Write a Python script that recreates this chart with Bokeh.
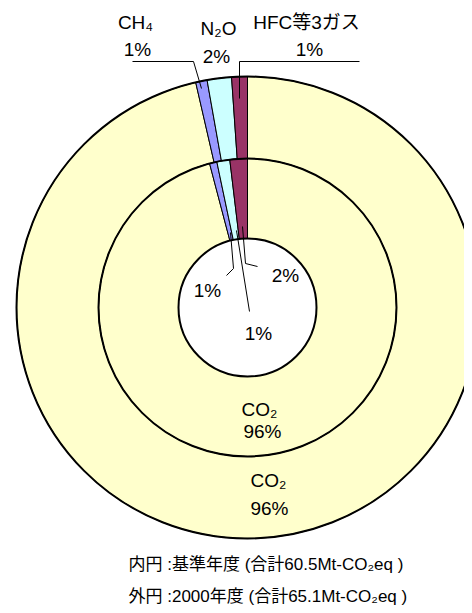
import numpy as np
from bokeh.plotting import figure
from bokeh.models import Range1d, ColumnDataSource
from bokeh.core.properties import value
from bokeh.embed import file_html
from bokeh.resources import INLINE

# ---- data ----
gases = ["CO₂", "CH₄", "N₂O", "HFC等3ガス"]
share_2000 = [96.4, 0.8, 1.7, 1.1]      # outer ring (2000年度)
share_base = [95.9, 0.8, 1.4, 1.9]      # inner ring (基準年度)
pct_2000 = ["96%", "1%", "2%", "1%"]
pct_base = ["96%", "1%", "1%", "2%"]
colors = ["#FFFFCC", "#9999FF", "#CCFFFF", "#993366"]
caption = ["内円 :基準年度 (合計60.5Mt-CO₂eq )",
           "外円 :2000年度 (合計65.1Mt-CO₂eq )"]

FONT = value("'Liberation Sans', 'Noto Sans CJK JP'")

W, H = 464, 608
p = figure(width=W, height=H, output_backend="svg", toolbar_location=None,
           x_range=Range1d(0, W), y_range=Range1d(-H, 0),
           min_border=0)
p.axis.visible = False
p.grid.visible = False
p.outline_line_color = None
p.background_fill_color = "white"

CX, CY = 247, -307
R_HOLE, R_MID, R_OUT = 69, 149, 231


def wedges(shares):
    s = np.array(shares, dtype=float)
    cum = np.concatenate([[0], np.cumsum(s)]) / s.sum()
    start = np.pi / 2 - 2 * np.pi * cum[:-1]
    end = np.pi / 2 - 2 * np.pi * cum[1:]
    return start, end


for shares, r0, r1 in [(share_base, R_HOLE, R_MID), (share_2000, R_MID, R_OUT)]:
    st, en = wedges(shares)
    src = ColumnDataSource(dict(start=st, end=en, color=colors, gas=gases))
    p.annular_wedge(x=CX, y=CY, inner_radius=r0, outer_radius=r1,
                    start_angle="start", end_angle="end", direction="clock",
                    fill_color="color", line_color="black", line_width=1,
                    source=src)

p.circle(x=[CX], y=[CY], radius=R_HOLE, fill_color="white",
         line_color="black", line_width=2)
p.circle(x=[CX, CX], y=[CY, CY], radius=[R_MID, R_OUT], fill_color=None,
         line_color="black", line_width=2)

# leader lines (reference pixel coords -> data)
leaders = [
    [(132, 61), (193, 61), (201, 88)],
    [(359, 61), (239, 61), (239, 98)],
    [(226, 275), (233, 268), (230, 232)],
    [(249, 311), (236, 230)],
    [(257, 266), (245, 263), (242, 226)],
]
p.multi_line(xs=[[a for a, b in L] for L in leaders],
             ys=[[-b for a, b in L] for L in leaders],
             line_color="black", line_width=1)

# labels
lab_x = [135, 137, 218, 216, 306, 309, 207, 258, 285, 259, 262, 268, 269]
lab_y = [22, 49, 28, 56, 22, 49, 290, 333, 275, 409, 431, 480, 508]
lab_t = [gases[1], pct_2000[1], gases[2], pct_2000[2], gases[3], pct_2000[3],
         pct_base[1], pct_base[2], pct_base[3],
         gases[0], pct_base[0], gases[0], pct_2000[0]]
p.text(x=lab_x, y=[-v for v in lab_y], text=lab_t, text_font=FONT,
       text_font_size="19px", text_align="center", text_baseline="middle",
       text_color="black")

p.text(x=[128, 128], y=[-564, -596], text=caption, text_font=FONT,
       text_font_size="17px", text_align="left", text_baseline="middle",
       text_color="black")

open("out.html", "w").write(file_html(p, INLINE))
